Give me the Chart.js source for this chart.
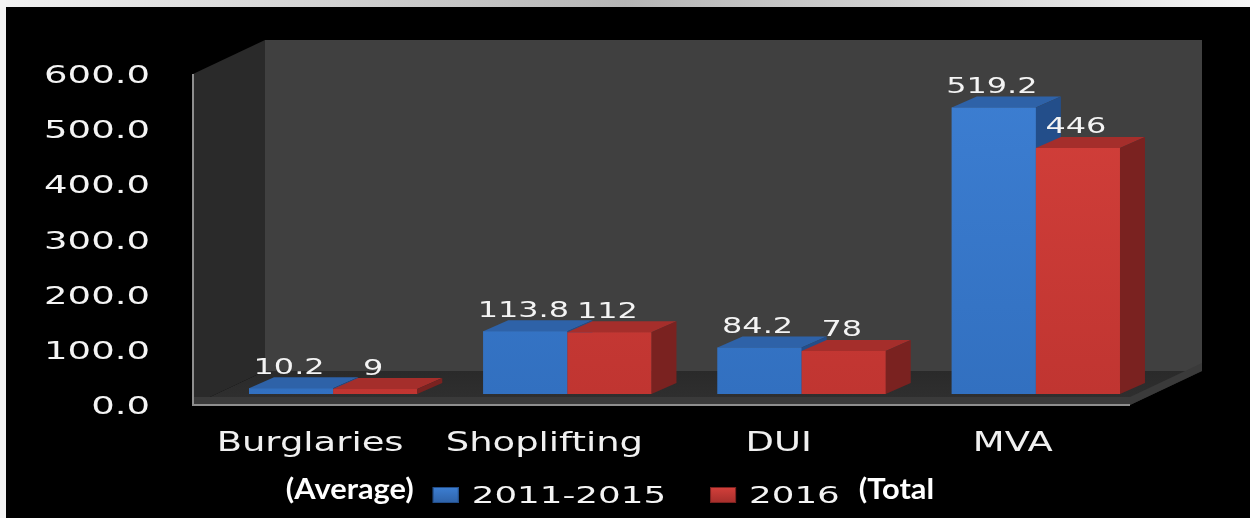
<!DOCTYPE html>
<html>
<head>
<meta charset="utf-8">
<script src="https://cdn.jsdelivr.net/npm/chart.js@4/dist/chart.umd.min.js"></script>
<style>
  html, body { margin: 0; padding: 0; background: #000; overflow: hidden; }
  #wrap { width: 1250px; height: 518px; }
</style>
</head>
<body>
<div id="wrap"><canvas id="c" width="1250" height="518"></canvas></div>
<script>
// ---- data ----
const categories = ['Burglaries', 'Shoplifting', 'DUI', 'MVA'];
const seriesLabels = ['2011-2015', '2016'];
const series2011_2015 = [10.2, 113.8, 84.2, 519.2];
const series2016 = [9, 112, 78, 446];
const yTickValues = [0, 100, 200, 300, 400, 500, 600];
const yTickLabels = ['0.0', '100.0', '200.0', '300.0', '400.0', '500.0', '600.0'];
const legendNotes = ['(Average)', '(Total'];

// ---- style constants ----
const BAR_SHIFT_X = 23, BAR_SHIFT_Y = -11;   // bars sit a little behind the axis plane
const BAR_DEPTH_X = 25, BAR_DEPTH_Y = -11;   // bar depth
const WALL_DEPTH_X = 72, WALL_DEPTH_Y = -34; // box depth

const faceColors = [
  { top: '#2e62a8', side: '#234e8a', g0: '#3d7fd3', g1: '#3270c0' },
  { top: '#a52e2b', side: '#7a2220', g0: '#d4403b', g1: '#c03531' }
];

function sText(ctx, text, x, y, font, sx, align, color) {
  ctx.save();
  ctx.font = font;
  ctx.fillStyle = color;
  ctx.textBaseline = 'alphabetic';
  ctx.textAlign = align;
  ctx.translate(x, y);
  ctx.scale(sx, 1);
  ctx.fillText(text, 0, 0);
  ctx.restore();
}
function sWidth(ctx, text, font, sx) {
  ctx.save(); ctx.font = font; const w = ctx.measureText(text).width * sx; ctx.restore(); return w;
}

const boxPlugin = {
  id: 'box3d',
  beforeDraw(chart) {
    const ctx = chart.ctx, a = chart.chartArea;
    const W = chart.width, H = chart.height;
    ctx.save();
    ctx.fillStyle = '#000';
    ctx.fillRect(0, 0, W, H);
    // top strip
    const tg = ctx.createLinearGradient(0, 0, W, 0);
    tg.addColorStop(0, '#f2f2f2'); tg.addColorStop(0.5, '#b6b6b6'); tg.addColorStop(1, '#f6f6f6');
    ctx.fillStyle = tg; ctx.fillRect(0, 0, W, 7);
    // left strip
    ctx.fillStyle = '#f3f3f3'; ctx.fillRect(0, 0, 6, H);

    const L = a.left, R = a.right, T = a.top, B = a.bottom;
    const dx = WALL_DEPTH_X, dy = WALL_DEPTH_Y;
    // back wall
    ctx.fillStyle = '#404040';
    ctx.fillRect(L + dx, T + dy, R - L, B - T);
    // left side wall
    ctx.fillStyle = '#2a2a2a';
    ctx.beginPath();
    ctx.moveTo(L, T); ctx.lineTo(L + dx, T + dy); ctx.lineTo(L + dx, B + dy); ctx.lineTo(L, B);
    ctx.closePath(); ctx.fill();
    // floor
    const fg = ctx.createLinearGradient(0, B + dy, 0, B);
    fg.addColorStop(0, '#2a2a2a'); fg.addColorStop(1, '#303030');
    ctx.fillStyle = fg;
    ctx.beginPath();
    ctx.moveTo(L, B); ctx.lineTo(L + dx, B + dy); ctx.lineTo(R + dx, B + dy); ctx.lineTo(R, B);
    ctx.closePath(); ctx.fill();
    // floor front slab
    ctx.fillStyle = '#3a3a3a';
    ctx.fillRect(L, B - 8, R - L, 8);
    ctx.beginPath();
    ctx.moveTo(R, B - 8); ctx.lineTo(R + dx, B + dy - 8); ctx.lineTo(R + dx, B + dy); ctx.lineTo(R, B);
    ctx.closePath(); ctx.fill();
    // edges
    ctx.strokeStyle = '#8e8e8e';
    ctx.lineWidth = 2;
    ctx.beginPath();
    ctx.moveTo(L, T); ctx.lineTo(L, B); ctx.lineTo(R, B);
    ctx.stroke();
    ctx.restore();
  },
  beforeDatasetsDraw(chart) {
    chart.ctx.save();
    chart.ctx.translate(BAR_SHIFT_X, BAR_SHIFT_Y);
  },
  afterDatasetsDraw(chart) {
    const ctx = chart.ctx;
    // redraw every bar with its 3D faces, series by series per category, so
    // that nearer (right-hand) bars paint over the sides of the left ones
    const metas = chart.data.datasets.map((d, i) => chart.getDatasetMeta(i));
    categories.forEach((c, ci) => {
      metas.forEach((meta, di) => {
        const el = meta.data[ci];
        if (!el) return;
        const col = faceColors[di];
        el.draw(ctx, chart.chartArea);
        const p = el.getProps(['x', 'y', 'base', 'width'], true);
        const l = p.x - p.width / 2, r = p.x + p.width / 2;
        ctx.fillStyle = col.top;
        ctx.beginPath();
        ctx.moveTo(l, p.y); ctx.lineTo(l + BAR_DEPTH_X, p.y + BAR_DEPTH_Y);
        ctx.lineTo(r + BAR_DEPTH_X, p.y + BAR_DEPTH_Y); ctx.lineTo(r, p.y);
        ctx.closePath(); ctx.fill();
        ctx.fillStyle = col.side;
        ctx.beginPath();
        ctx.moveTo(r, p.y); ctx.lineTo(r + BAR_DEPTH_X, p.y + BAR_DEPTH_Y);
        ctx.lineTo(r + BAR_DEPTH_X, p.base + BAR_DEPTH_Y); ctx.lineTo(r, p.base);
        ctx.closePath(); ctx.fill();
      });
    });
    ctx.restore();
  },
  afterDraw(chart) {
    const ctx = chart.ctx, a = chart.chartArea;
    const ys = chart.scales.y, xs = chart.scales.x;
    // y tick labels
    const tickFont = '25px "DejaVu Sans"';
    yTickValues.forEach((v, i) => {
      sText(ctx, yTickLabels[i], a.left - 43, ys.getPixelForValue(v) + 9, tickFont, 1.48, 'right', '#f4f4f4');
    });
    // category labels
    const catFont = '26px "DejaVu Sans"';
    categories.forEach((c, i) => {
      sText(ctx, c, xs.getPixelForValue(i), a.bottom + 46, catFont, 1.42, 'center', '#f0f0f0');
    });
    // data labels
    const dlFont = '22px "DejaVu Sans"';
    chart.data.datasets.forEach((ds, di) => {
      const meta = chart.getDatasetMeta(di);
      meta.data.forEach((el, i) => {
        const p = el.getProps(['x', 'y'], true);
        sText(ctx, String(ds.data[i]), p.x + BAR_SHIFT_X - 2, p.y + BAR_SHIFT_Y - 14.5, dlFont, 1.45, 'center', '#f4f4f4');
      });
    });
    // legend
    const noteFont = 'bold 28px Lato', noteSx = 1.1;
    const legFont = '23px "DejaVu Sans"', legSx = 1.55;
    const items = [
      { t: 'note', s: legendNotes[0] }, { t: 'gap', w: 19 },
      { t: 'mark', i: 0 }, { t: 'gap', w: 13 }, { t: 'lab', s: chart.data.datasets[0].label }, { t: 'gap', w: 44 },
      { t: 'mark', i: 1 }, { t: 'gap', w: 13 }, { t: 'lab', s: chart.data.datasets[1].label }, { t: 'gap', w: 19 },
      { t: 'note', s: legendNotes[1] }
    ];
    const MW = 26, MH = 16;
    items.forEach(it => {
      if (it.t === 'note') it.w = sWidth(ctx, it.s, noteFont, noteSx);
      else if (it.t === 'lab') it.w = sWidth(ctx, it.s, legFont, legSx);
      else if (it.t === 'mark') it.w = MW;
    });
    const total = items.reduce((s, it) => s + it.w, 0);
    let x = 610 - total / 2;
    const base = 503;
    items.forEach(it => {
      if (it.t === 'note') sText(ctx, it.s, x, base - 4, noteFont, noteSx, 'left', '#ffffff');
      else if (it.t === 'lab') sText(ctx, it.s, x, base, legFont, legSx, 'left', '#f4f4f4');
      else if (it.t === 'mark') {
        const c = faceColors[it.i];
        const g = ctx.createLinearGradient(0, base - MH, 0, base);
        g.addColorStop(0, c.g0); g.addColorStop(1, c.top);
        ctx.save();
        ctx.fillStyle = g;
        ctx.fillRect(x, base - MH, MW, MH);
        ctx.strokeStyle = c.side; ctx.lineWidth = 1;
        ctx.strokeRect(x + 0.5, base - MH + 0.5, MW - 1, MH - 1);
        ctx.restore();
      }
      x += it.w;
    });
  }
};

function frontGradient(idx) {
  return (context) => {
    const chart = context.chart, a = chart.chartArea;
    const c = faceColors[idx];
    if (!a) return c.g0;
    const g = chart.ctx.createLinearGradient(0, a.top, 0, a.bottom);
    g.addColorStop(0, c.g0); g.addColorStop(1, c.g1);
    return g;
  };
}

new Chart(document.getElementById('c'), {
  type: 'bar',
  data: {
    labels: categories,
    datasets: [
      { label: seriesLabels[0], data: series2011_2015, backgroundColor: frontGradient(0), borderWidth: 0 },
      { label: seriesLabels[1], data: series2016, backgroundColor: frontGradient(1), borderWidth: 0 }
    ]
  },
  options: {
    responsive: false,
    animation: false,
    devicePixelRatio: 1,
    layout: { padding: { left: 193, right: 120, top: 74, bottom: 113 } },
    datasets: { bar: { categoryPercentage: 0.718, barPercentage: 1.0 } },
    scales: {
      x: { display: false },
      y: { display: false, min: 0, max: 600 }
    },
    plugins: { legend: { display: false }, tooltip: { enabled: false } }
  },
  plugins: [boxPlugin]
});
</script>
</body>
</html>
